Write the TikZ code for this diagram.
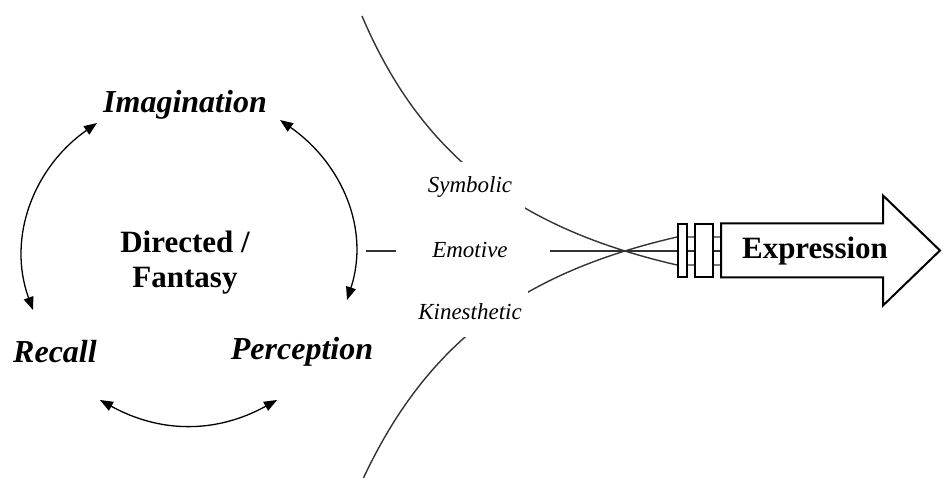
\documentclass[tikz,border=0pt]{standalone}
\usepackage{fontspec}
\setmainfont{Liberation Serif}
\usetikzlibrary{arrows.meta}
\begin{document}
\begin{tikzpicture}[x=0.5pt,y=0.5pt,>={Triangle[length=6.5pt,width=5pt]},
	phase/.style={font=\fontsize{16}{19}\selectfont\bfseries\itshape},
	channel/.style={font=\fontsize{11.5}{14}\selectfont\itshape,fill=white,minimum width=55pt,minimum height=25pt},
	wire/.style={line width=0.7pt,black!80},
	plug/.style={draw,line width=1pt,fill=white,minimum height=26.5pt,inner sep=0pt}]
			\useasboundingbox (0,0) rectangle (943,477);
			\coordinate (il) at (97,354);
			\coordinate (rl) at (33,167);
			\coordinate (ir) at (280,357);
			\coordinate (pr) at (347,177);
			\coordinate (rb) at (100,77);
			\coordinate (pb) at (277,77);
			\coordinate (st) at (362,461);
			\coordinate (kb) at (363,-2);
			\coordinate (w1) at (677,240);
			\coordinate (w3) at (677,212);
			\coordinate (v1) at (721,240);
			\coordinate (v2) at (721,226);
			\coordinate (v3) at (721,212);
			\coordinate (e1) at (550,226);
			\coordinate (d1) at (366,226);
			\coordinate (d2) at (396,226);
			\node[phase] (img) at (185,372) {Imagination};
			\node[phase] (rec) at (55,125) {Recall};
			\node[phase] (per) at (302,125) {Perception};
			\node[font=\fontsize{15.5}{17.5}\selectfont\bfseries,align=center] (dir) at (185,214) {Directed /\\Fantasy};
			\draw[<->,line width=0.65pt] (il) to[out=215,in=110] (rl);
			\draw[<->,line width=0.65pt] (ir) to[out=-35,in=72] (pr);
			\draw[<->,line width=0.65pt] (rb) to[out=-29,in=209] (pb);
			\draw[wire] (st) to[out=-67,in=167] (w3) -- (v3);
			\draw[wire] (kb) to[out=65,in=193] (w1) -- (v1);
			\draw[wire] (e1) -- (v2);
			\draw[wire] (d1) -- (d2);
			\node[plug,minimum width=4.5pt] (pga) at (682.5,226.5) {};
			\node[plug,minimum width=9pt] (pgb) at (704,226.5) {};
			\draw[line width=1pt,fill=white] (721,253.5) -- (883,253.5) -- (883,281.5) -- (940,226.5) -- (883,171.5) -- (883,199.5) -- (721,199.5) -- cycle;
			\node[font=\fontsize{15.5}{18}\selectfont\bfseries] (expr) at (815,226) {Expression};
			\node[channel] (sym) at (470,290) {Symbolic};
			\node[channel] (emo) at (470,227) {Emotive};
			\node[channel] (kin) at (470,165) {Kinesthetic};
		\end{tikzpicture}
\end{document}
